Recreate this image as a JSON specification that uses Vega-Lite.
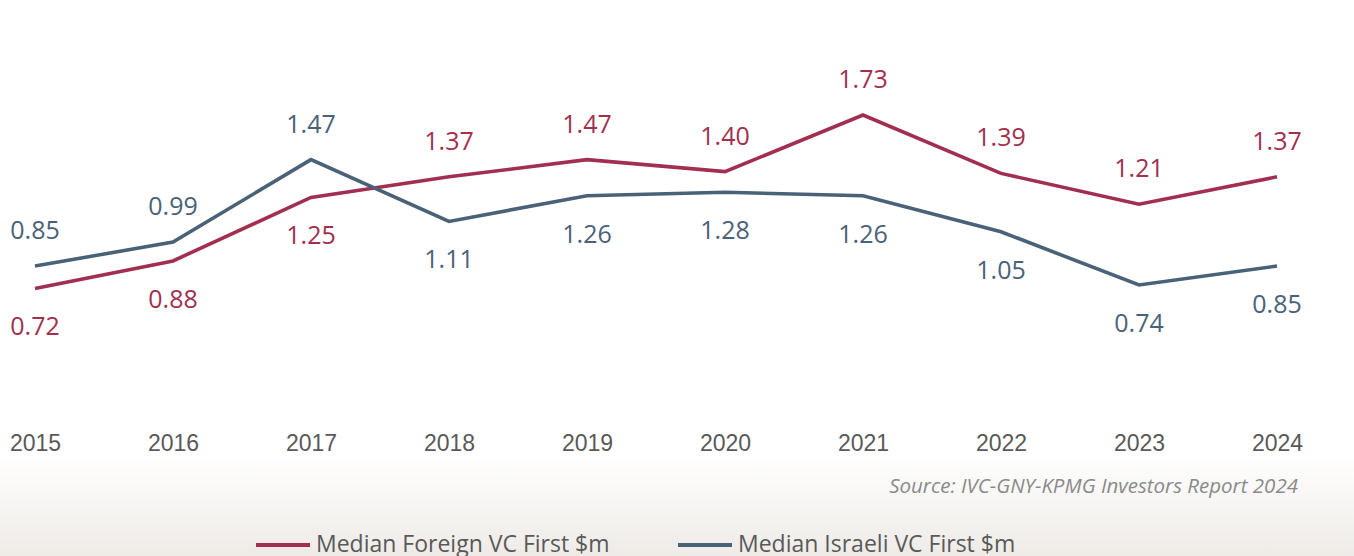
{
  "$schema": "https://vega.github.io/schema/vega-lite/v6.json",
  "width": 1312,
  "height": 412,
  "autosize": "none",
  "padding": {"left": 0, "top": 0, "right": 42, "bottom": 144},
  "background": "#ffffff",
  "config": {"view": {"stroke": null}, "font": "Open Sans"},
  "title": {
    "text": "Source: IVC-GNY-KPMG Investors Report 2024",
    "orient": "bottom",
    "anchor": "end",
    "font": "Open Sans",
    "fontStyle": "italic",
    "fontWeight": "normal",
    "fontSize": 20.5,
    "color": "#8a8a8a",
    "offset": 0,
    "dy": -80,
    "dx": -56
  },
  "data": {
    "values": [
      {"year": "2015", "series": "Median Foreign VC First $m", "value": 0.72},
      {"year": "2016", "series": "Median Foreign VC First $m", "value": 0.88},
      {"year": "2017", "series": "Median Foreign VC First $m", "value": 1.25},
      {"year": "2018", "series": "Median Foreign VC First $m", "value": 1.37},
      {"year": "2019", "series": "Median Foreign VC First $m", "value": 1.47},
      {"year": "2020", "series": "Median Foreign VC First $m", "value": 1.40},
      {"year": "2021", "series": "Median Foreign VC First $m", "value": 1.73},
      {"year": "2022", "series": "Median Foreign VC First $m", "value": 1.39},
      {"year": "2023", "series": "Median Foreign VC First $m", "value": 1.21},
      {"year": "2024", "series": "Median Foreign VC First $m", "value": 1.37},
      {"year": "2015", "series": "Median Israeli VC First $m", "value": 0.85},
      {"year": "2016", "series": "Median Israeli VC First $m", "value": 0.99},
      {"year": "2017", "series": "Median Israeli VC First $m", "value": 1.47},
      {"year": "2018", "series": "Median Israeli VC First $m", "value": 1.11},
      {"year": "2019", "series": "Median Israeli VC First $m", "value": 1.26},
      {"year": "2020", "series": "Median Israeli VC First $m", "value": 1.28},
      {"year": "2021", "series": "Median Israeli VC First $m", "value": 1.26},
      {"year": "2022", "series": "Median Israeli VC First $m", "value": 1.05},
      {"year": "2023", "series": "Median Israeli VC First $m", "value": 0.74},
      {"year": "2024", "series": "Median Israeli VC First $m", "value": 0.85}
    ]
  },
  "resolve": {"scale": {"x": "independent"}, "axis": {"x": "independent"}},
  "layer": [
    {
      "data": {"values": [{"a": 0}]},
      "mark": {
        "type": "rect",
        "fill": {
          "gradient": "linear",
          "x1": 0, "y1": 0, "x2": 0, "y2": 1,
          "stops": [
            {"offset": 0, "color": "#ffffff"},
            {"offset": 1, "color": "#eeebe7"}
          ]
        }
      },
      "encoding": {
        "x": {"datum": 0, "type": "quantitative", "scale": {"domain": [0, 0.969]}, "axis": null},
        "x2": {"datum": 1},
        "y": {"datum": -0.25, "type": "quantitative", "scale": {"domain": [0, 2.4]}, "axis": null},
        "y2": {"datum": -0.84}
      }
    },
    {
      "layer": [
        {
          "mark": {"type": "line", "strokeWidth": 3.6},
          "encoding": {
            "x": {
              "field": "year", "type": "ordinal",
              "scale": {"type": "point", "padding": 0.2536},
              "axis": {
                "title": null, "labelAngle": 0, "domain": false, "ticks": false, "grid": false,
                "labelFont": "Liberation Sans", "labelFontSize": 23, "labelColor": "#595959",
                "labelBaseline": "alphabetic", "labelPadding": 38
              }
            },
            "y": {"field": "value", "type": "quantitative", "scale": {"domain": [0, 2.4]}, "axis": null},
            "color": {
              "field": "series", "type": "nominal",
              "scale": {
                "domain": ["Median Foreign VC First $m", "Median Israeli VC First $m"],
                "range": ["#a22f4f", "#4a6277"]
              },
              "legend": {
                "orient": "none", "legendX": 254, "legendY": 516, "direction": "horizontal",
                "title": null, "symbolType": "stroke", "symbolStrokeWidth": 4, "symbolSize": 2916,
                "labelFont": "Open Sans", "labelFontSize": 23, "labelColor": "#595959",
                "labelOffset": 4, "columnPadding": 60, "labelLimit": 0
              }
            }
          }
        },
        {
          "transform": [
            {"joinaggregate": [{"op": "max", "field": "value", "as": "maxv"}], "groupby": ["year"]},
            {"filter": "datum.value == datum.maxv"}
          ],
          "mark": {"type": "text", "baseline": "alphabetic", "dy": -27, "fontSize": 25, "font": "Open Sans"},
          "encoding": {
            "x": {"field": "year", "type": "ordinal"},
            "y": {"field": "value", "type": "quantitative"},
            "text": {"field": "value", "type": "quantitative", "format": ".2f"},
            "color": {"field": "series", "type": "nominal", "legend": null}
          }
        },
        {
          "transform": [
            {"joinaggregate": [{"op": "max", "field": "value", "as": "maxv"}], "groupby": ["year"]},
            {"filter": "datum.value < datum.maxv"}
          ],
          "mark": {"type": "text", "baseline": "alphabetic", "dy": 47, "fontSize": 25, "font": "Open Sans"},
          "encoding": {
            "x": {"field": "year", "type": "ordinal"},
            "y": {"field": "value", "type": "quantitative"},
            "text": {"field": "value", "type": "quantitative", "format": ".2f"},
            "color": {"field": "series", "type": "nominal", "legend": null}
          }
        }
      ]
    }
  ]
}
